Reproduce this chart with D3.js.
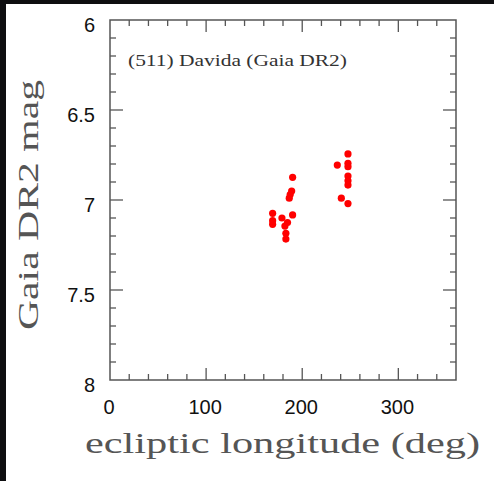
<!DOCTYPE html>
<meta charset="utf-8">
<script src="https://d3js.org/d3.v7.min.js"></script>
<style>
  body { margin: 0; background: #0e0e10; }
  svg { display: block; }
</style>
<div id="chart"></div>
<script>
// ecliptic longitude (deg) and Gaia DR2 magnitude
var lon = [190, 189, 187.5, 186.5, 169.2, 169.2, 169.2, 178.9, 190, 184.7, 182, 183, 183,
           247.6, 236.5, 247.6, 247.6, 247.6, 247.6, 247.6, 240.7, 247.6];
var mag = [6.874, 6.95, 6.97, 6.99, 7.074, 7.115, 7.135, 7.10, 7.083, 7.125, 7.145, 7.185, 7.217,
           6.744, 6.806, 6.796, 6.815, 6.867, 6.893, 6.917, 6.99, 7.02];
var xTicks = [0, 100, 200, 300];
var yTicks = [6, 6.5, 7, 7.5, 8];

var W = 494, H = 481;
var margin = {top: 20, right: 38, bottom: 101, left: 110};

var svg = d3.select("#chart").append("svg")
  .attr("width", W)
  .attr("height", H);

// white panel over the dark backdrop
svg.append("rect")
  .attr("x", 6).attr("y", 4)
  .attr("width", W - 6).attr("height", H - 4)
  .attr("fill", "#fff");

var x = d3.scaleLinear().domain([0, 360]).range([margin.left, W - margin.right]);
var y = d3.scaleLinear().domain([6, 8]).range([margin.top, H - margin.bottom]);

var axisColor = "#555";

var xMinor = d3.range(0, 361, 20);
var yMinor = d3.range(6, 8.001, 0.1).map(function(v){ return +v.toFixed(1); });

function isMajorX(v) { return v % 100 === 0; }
function isMajorY(v) { return Math.abs(v * 2 - Math.round(v * 2)) < 1e-6; }

var g = svg.append("g");

// bottom + top ticks, pointing inward
[y.range()[1], y.range()[0]].forEach(function(py, i) {
  var dir = i === 0 ? -1 : 1;
  g.selectAll(null)
    .data(xMinor.filter(function(v){ return v > 0 && v < 360; }))
    .enter().append("line")
    .attr("x1", function(d){ return x(d); })
    .attr("x2", function(d){ return x(d); })
    .attr("y1", py)
    .attr("y2", function(d){ return py + dir * (isMajorX(d) ? 12 : 6); })
    .attr("stroke", axisColor).attr("stroke-width", 1.3);
});

// left + right ticks
[x.range()[0], x.range()[1]].forEach(function(px, i) {
  var dir = i === 0 ? 1 : -1;
  g.selectAll(null)
    .data(yMinor.filter(function(v){ return v > 6 && v < 8; }))
    .enter().append("line")
    .attr("y1", function(d){ return y(d); })
    .attr("y2", function(d){ return y(d); })
    .attr("x1", px)
    .attr("x2", function(d){ return px + dir * (isMajorY(d) ? 13 : 6); })
    .attr("stroke", axisColor).attr("stroke-width", 1.3);
});

// frame
svg.append("rect")
  .attr("x", x(0)).attr("y", y(6))
  .attr("width", x(360) - x(0)).attr("height", y(8) - y(6))
  .attr("fill", "none")
  .attr("stroke", axisColor).attr("stroke-width", 1.5);

// tick labels
svg.selectAll(".xl")
  .data(xTicks)
  .enter().append("text")
  .attr("x", function(d){ return x(d) - 1; })
  .attr("y", y(8) + 34)
  .attr("text-anchor", "middle")
  .style("font-family", "Liberation Sans, Arial, sans-serif")
  .style("font-size", "20px")
  .attr("fill", "#111")
  .text(function(d){ return d; });

svg.selectAll(".yl")
  .data(yTicks)
  .enter().append("text")
  .attr("x", 95)
  .attr("y", function(d){ return y(d) + 12; })
  .attr("text-anchor", "end")
  .style("font-family", "Liberation Sans, Arial, sans-serif")
  .style("font-size", "20px")
  .attr("fill", "#111")
  .text(function(d){ return d; });

// axis titles (thin roman, like the TeX original)
svg.append("text")
  .attr("x", 85).attr("y", 453)
  .attr("textLength", 395)
  .attr("lengthAdjust", "spacingAndGlyphs")
  .style("font-family", "Liberation Serif, serif")
  .style("font-size", "29px")
  .attr("fill", "#555")
  .text("ecliptic longitude (deg)");

svg.append("text")
  .attr("transform", "translate(38," + 330 + ") rotate(-90)")
  .attr("textLength", 250)
  .attr("lengthAdjust", "spacingAndGlyphs")
  .style("font-family", "Liberation Serif, serif")
  .style("font-size", "30px")
  .attr("fill", "#555")
  .text("Gaia DR2 mag");

svg.append("text")
  .attr("x", 128).attr("y", 66)
  .attr("textLength", 219)
  .attr("lengthAdjust", "spacingAndGlyphs")
  .style("font-family", "Liberation Serif, serif")
  .style("font-size", "16px")
  .attr("fill", "#333")
  .text("(511) Davida (Gaia DR2)");

// data points
svg.selectAll(".pt")
  .data(d3.range(lon.length))
  .enter().append("circle")
  .attr("cx", function(i){ return x(lon[i]); })
  .attr("cy", function(i){ return y(mag[i]); })
  .attr("r", 3.6)
  .attr("fill", "#ff0000");
</script>
